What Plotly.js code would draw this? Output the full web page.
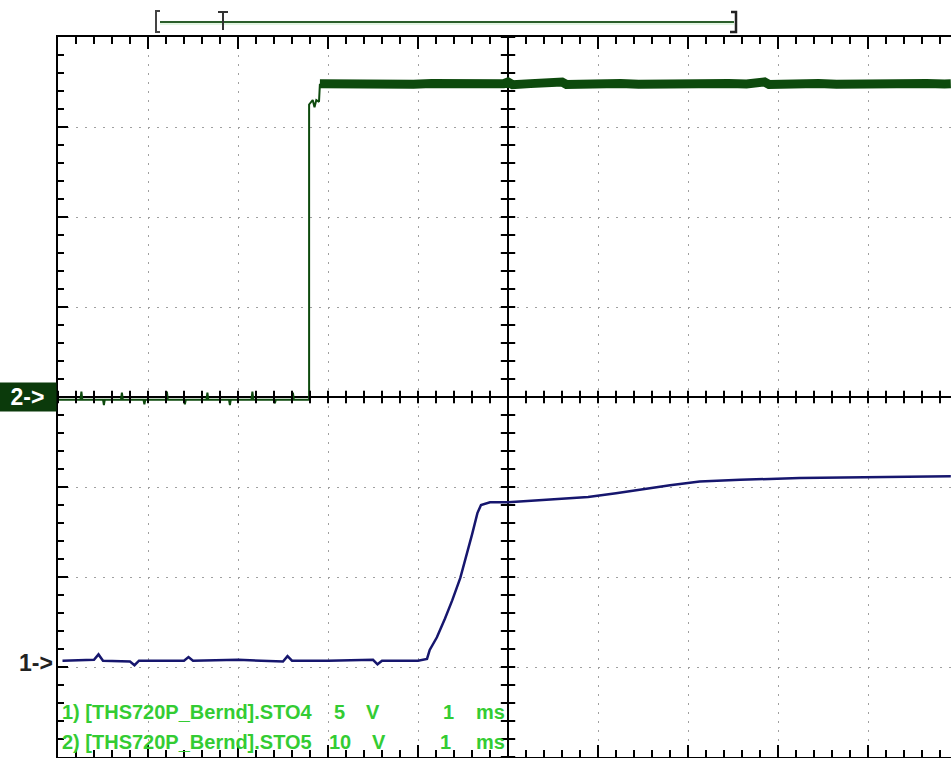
<!DOCTYPE html>
<html>
<head>
<meta charset="utf-8">
<script src="https://cdn.plot.ly/plotly-3.0.1.min.js"></script>
<style>html,body{margin:0;padding:0;background:#fff;}#chart{width:951px;height:758px;}</style>
</head>
<body>
<div id="chart"></div>
<script>
// Time in divisions (1 ms/div, 0 = screen centre); amplitude in divisions from screen centre.
var ch2LowT = [-5.0,-4.75,-4.74,-4.73,-4.5,-4.49,-4.48,-4.3,-4.29,-4.28,-4.05,-4.04,-4.03,-3.8,-3.79,-3.78,-3.6,-3.59,-3.58,-3.35,-3.34,-3.33,-3.1,-3.09,-3.08,-2.85,-2.84,-2.83,-2.6,-2.59,-2.58,-2.4,-2.39,-2.38,-2.22,-2.21,-2.21,-2.17,-2.15,-2.13,-2.10,-2.09];
var ch2LowV = [-0.03,-0.03,0.06,-0.03,-0.03,-0.09,-0.03,-0.03,0.05,-0.03,-0.03,-0.08,-0.03,-0.03,0.06,-0.03,-0.03,-0.08,-0.03,-0.03,0.05,-0.03,-0.03,-0.09,-0.03,-0.03,0.06,-0.03,-0.03,-0.07,-0.03,-0.03,0.05,-0.03,-0.03,-0.03,3.25,3.30,3.22,3.30,3.28,3.48];
var ch2HighT = [-2.09,-1.85,-1.65,-1.45,-1.25,-1.05,-0.85,-0.65,-0.45,-0.25,-0.05,0.0,0.05,0.25,0.45,0.6,0.65,0.85,1.05,1.25,1.45,1.65,1.85,2.05,2.25,2.45,2.65,2.85,2.9,3.05,3.25,3.45,3.65,3.85,4.05,4.25,4.45,4.65,4.85,4.92];
var ch2HighV = [3.48,3.475,3.485,3.478,3.482,3.476,3.484,3.478,3.482,3.476,3.48,3.50,3.47,3.482,3.478,3.50,3.472,3.482,3.478,3.484,3.476,3.482,3.478,3.484,3.476,3.482,3.478,3.50,3.472,3.482,3.478,3.484,3.476,3.482,3.478,3.488,3.476,3.482,3.478,3.48];
var ch1T = [-4.95,-4.6,-4.55,-4.5,-4.2,-4.15,-4.1,-3.6,-3.55,-3.5,-3.0,-2.5,-2.45,-2.4,-2.0,-1.5,-1.45,-1.4,-1.0,-0.9,-0.87,-0.79,-0.70,-0.62,-0.53,-0.46,-0.40,-0.34,-0.30,-0.20,0.0,0.3,0.6,0.89,1.2,1.47,1.8,2.13,2.58,3.24,4.0,4.92];
var ch1V = [-2.93,-2.92,-2.86,-2.93,-2.94,-2.98,-2.93,-2.93,-2.89,-2.93,-2.92,-2.94,-2.88,-2.93,-2.93,-2.92,-2.97,-2.93,-2.93,-2.91,-2.81,-2.67,-2.46,-2.26,-2.01,-1.76,-1.53,-1.29,-1.20,-1.17,-1.17,-1.15,-1.13,-1.11,-1.07,-1.03,-0.98,-0.94,-0.92,-0.90,-0.89,-0.88];
var infoLine1 = ["1) [THS720P_Bernd].STO4", "5", "V", "1", "ms"];
var infoLine2 = ["2) [THS720P_Bernd].STO5", "10", "V", "1", "ms"];
var markerLabels = ["2->", "1->"];

var traces = [
  {x: ch2LowT, y: ch2LowV, mode: 'lines', line: {color: '#0d4a0d', width: 2}, hoverinfo: 'skip'},
  {x: ch2HighT, y: ch2HighV, mode: 'lines', line: {color: '#0d4a0d', width: 9}, hoverinfo: 'skip'},
  {x: ch1T, y: ch1V, mode: 'lines', line: {color: '#16166e', width: 2.5}, hoverinfo: 'skip'}
];

var shapes = [];
for (var i = -25; i <= 25; i++) {
  var v = i * 0.2;
  if (v >= -5 && v <= 4.95) shapes.push({type: 'line', xref: 'x', yref: 'y', x0: v, x1: v, y0: -0.07, y1: 0.07, line: {color: '#000', width: 2}});
}
for (var j = -20; j <= 20; j++) {
  var w = j * 0.2;
  shapes.push({type: 'line', xref: 'x', yref: 'y', x0: -0.08, x1: 0.08, y0: w, y1: w, line: {color: '#000', width: 2}});
}
function px(p) { return (p - 58) / 893; }
function py(p) { return (757 - p) / 720; }
shapes.push({type: 'rect', xref: 'paper', yref: 'paper', x0: px(160), x1: px(734), y0: py(25), y1: py(21), fillcolor: 'rgba(190,235,190,0.45)', line: {width: 0}});
shapes.push({type: 'line', xref: 'paper', yref: 'paper', x0: px(160), x1: px(734), y0: py(22), y1: py(22), line: {color: '#2b5e2b', width: 2}});
shapes.push({type: 'path', xref: 'paper', yref: 'paper', path: 'M' + px(160) + ',' + py(11) + ' L' + px(156) + ',' + py(11) + ' L' + px(156) + ',' + py(32) + ' L' + px(160) + ',' + py(32), line: {color: '#444', width: 2}});
shapes.push({type: 'path', xref: 'paper', yref: 'paper', path: 'M' + px(731) + ',' + py(12) + ' L' + px(736) + ',' + py(12) + ' L' + px(736) + ',' + py(32) + ' L' + px(730) + ',' + py(32), line: {color: '#222', width: 2.5}});
shapes.push({type: 'line', xref: 'paper', yref: 'paper', x0: px(223), x1: px(223), y0: py(12), y1: py(30), line: {color: '#333', width: 2}});
shapes.push({type: 'line', xref: 'paper', yref: 'paper', x0: px(218), x1: px(228), y0: py(12), y1: py(12), line: {color: '#333', width: 2}});

var infoFont = {family: 'Liberation Sans, Arial', size: 20, color: '#33cc33'};
function info(txt, xpx, ydiv, anchor) {
  return {xref: 'paper', yref: 'y', x: px(xpx), y: ydiv, xanchor: anchor, yanchor: 'middle', text: '<b>' + txt + '</b>', showarrow: false, font: infoFont};
}
var annotations = [
  {xref: 'paper', yref: 'y', x: 0, y: 0, xanchor: 'right', yanchor: 'middle', xshift: -1, text: '<b>' + markerLabels[0] + '</b>', showarrow: false,
   font: {family: 'Liberation Sans, Arial', size: 23, color: '#ffffff'}, bgcolor: '#0b3a0b', width: 57, height: 28, align: 'center', borderpad: 0},
  {xref: 'paper', yref: 'y', x: 0, y: -2.95, xanchor: 'right', yanchor: 'middle', xshift: -3, text: '<b>' + markerLabels[1] + '</b>', showarrow: false,
   font: {family: 'Liberation Sans, Arial', size: 23, color: '#222'}},
  info(infoLine1[0], 60, -3.5, 'left'), info(infoLine1[1], 332, -3.5, 'left'), info(infoLine1[2], 364, -3.5, 'left'),
  info(infoLine1[3], 441, -3.5, 'left'), info(infoLine1[4], 507, -3.5, 'right'),
  info(infoLine2[0], 60, -3.83, 'left'), info(infoLine2[1], 327, -3.83, 'left'), info(infoLine2[2], 370, -3.83, 'left'),
  info(infoLine2[3], 438, -3.83, 'left'), info(infoLine2[4], 507, -3.83, 'right')
];

var layout = {
  width: 951, height: 758,
  margin: {l: 58, r: 0, t: 37, b: 1, pad: 0},
  paper_bgcolor: '#ffffff', plot_bgcolor: '#ffffff',
  showlegend: false,
  xaxis: {range: [-5, 4.922], dtick: 1, tick0: 0, showgrid: true, gridcolor: '#a0a0a0', gridwidth: 1, griddash: '2px,7px',
          zeroline: true, zerolinecolor: '#000', zerolinewidth: 2,
          ticks: 'inside', ticklen: 12, tickwidth: 2, tickcolor: '#000', showticklabels: false,
          minor: {dtick: 0.2, tick0: 0, ticks: 'inside', ticklen: 7, tickwidth: 2, tickcolor: '#000', showgrid: false},
          showline: true, linecolor: '#000', linewidth: 2, mirror: 'ticks', fixedrange: true},
  yaxis: {range: [-4, 4], dtick: 1, tick0: 0, showgrid: true, gridcolor: '#a0a0a0', gridwidth: 1, griddash: '2px,7px',
          zeroline: true, zerolinecolor: '#000', zerolinewidth: 2,
          ticks: 'inside', ticklen: 10, tickwidth: 2, tickcolor: '#000', showticklabels: false,
          minor: {dtick: 0.2, tick0: 0, ticks: 'inside', ticklen: 6, tickwidth: 2, tickcolor: '#000', showgrid: false},
          showline: true, linecolor: '#000', linewidth: 2, mirror: false, fixedrange: true},
  shapes: shapes,
  annotations: annotations
};

Plotly.newPlot('chart', traces, layout, {displayModeBar: false, staticPlot: true});
</script>
</body>
</html>
